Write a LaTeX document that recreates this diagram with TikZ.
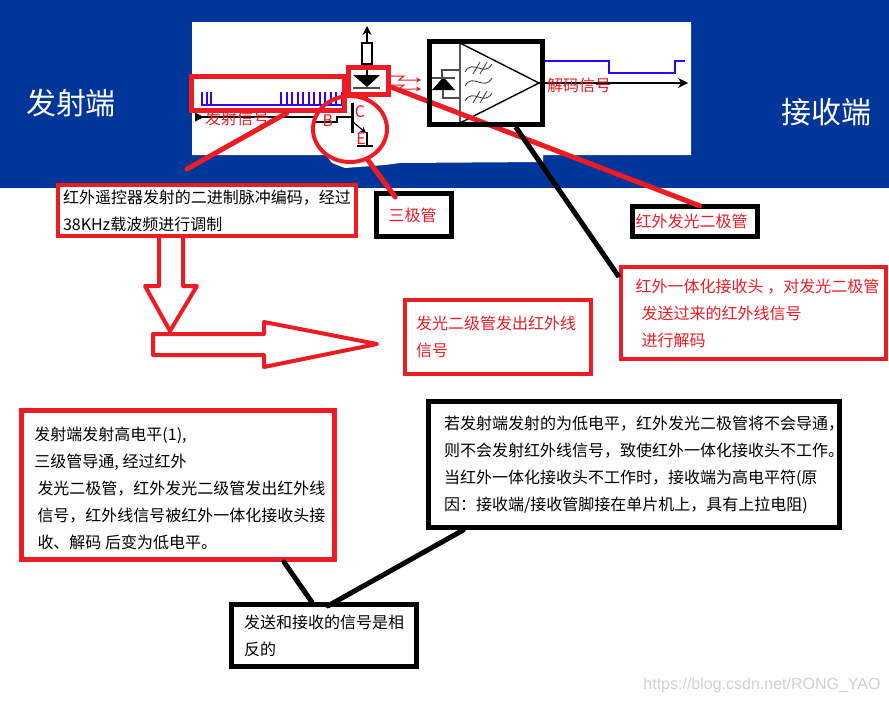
\documentclass[tikz,border=0pt]{standalone}
\usepackage{fontspec}
\setmainfont{Noto Sans CJK SC}
\newfontfamily\markfont{Liberation Sans}
\usetikzlibrary{arrows.meta, shapes.geometric}
\definecolor{bandblue}{RGB}{0,53,153}
\definecolor{markred}{RGB}{237,28,36}
\definecolor{pulseblue}{RGB}{51,0,255}
\newcommand{\lowline}[1]{\makebox[400pt][l]{\hspace*{10pt}#1}}

\begin{document}
\begin{tikzpicture}[
    x=1pt, y=-1pt, >=Stealth,
    every node/.style={inner sep=0pt, font=\fontsize{16}{27}\selectfont, align=left},
    redbox/.style={draw=markred, line width=#1, fill=white},
    redbox/.default=4pt,
    blackbox/.style={draw=black, line width=5pt, fill=white},
    markbox/.style={draw=markred, line width=5pt},
    redlink/.style={draw=markred, line width=5pt, line cap=round},
    blacklink/.style={draw=black, line width=5pt, line cap=round},
    hollow/.style={draw=markred, line width=4pt, line join=round},
    wire/.style={draw=black, line width=1.2pt},
    pulse/.style={draw=pulseblue, line width=2pt},
    redtext/.style={text=markred},
    wave/.style={draw=black!80, line width=0.8pt}
]
  \useasboundingbox (0,0) rectangle (889,704);
  \fill[white] (0,0) rectangle (889,704);
  \fill[bandblue] (0,0) rectangle (889,188);
  \fill[white] (192,22) -- (691,22) -- (691,155) -- (543,155) -- (543,162) -- (400,163)
    -- (385,165) -- (345,168) -- (332,163) -- (326,155) -- (192,155) -- cycle;

  \node[text=white, font=\fontsize{30}{30}\selectfont] (sendtitle) at (71,103) {发射端};
  \node[text=white, font=\fontsize{30}{30}\selectfont] (recvtitle) at (826,112) {接收端};

  % emitter side
  \coordinate (vcc) at (367,26);
  \draw[wire, -{Stealth[length=9pt,width=9pt]}] (367,43) -- (vcc);
  \draw[wire, line width=2pt] (362,43) rectangle (372,64);
  \draw[wire] (367,64) -- (367,76);
  \fill[black] (353,75) -- (380,75) -- (367,87) -- cycle;
  \draw[wire, draw=black!70] (353,88) -- (380,88);
  \draw[wire] (367,97) -- (367,101);
  \draw[black, line width=3pt] (352,103) -- (352,133);
  \draw[wire] (200,117) -- (315,117);
  \fill[black] (195,112.5) -- (204,117) -- (195,121.5) -- cycle;
  \draw[wire] (315,117) -- (315,122) -- (337,122) -- (337,117) -- (352,117);
  \draw[wire, -{Stealth[length=6pt,width=6pt]}] (353,122) -- (366,133);
  \draw[wire] (367,132) -- (367,146);
  \draw[black, line width=2pt] (357,146) -- (373,146);
  \foreach \pos in {202,207,211} \draw[pulse] (\pos,92) -- (\pos,105);
  \foreach \pos in {281,286.5,...,342} \draw[pulse] (\pos,92) -- (\pos,105);
  \draw[pulse, line width=2.5pt] (201,105) -- (342,105);

  \node[redtext] (sendsig) at (237,118) {发射信号};
  \node[redtext] (pinb) at (328,121) {B};
  \node[redtext] (pinc) at (360,112) {C};
  \node[redtext] (pine) at (361,139) {E};

  % infrared rays
  \draw[draw=markred, line width=1pt, -{Stealth[length=5pt,width=5pt]}] (391,76) -- (404,76) -- (399,80) -- (421,80);
  \draw[draw=markred, line width=1pt, -{Stealth[length=5pt,width=5pt]}] (391,85) -- (404,85) -- (399,89) -- (421,89);

  % receiver side
  \draw[black, line width=1.4pt] (460,43) -- (539,83) -- (460,123) -- cycle;
  \fill[black] (432,90) -- (455,90) -- (443.5,77) -- cycle;
  \draw[wire, draw=black!70] (432,78) -- (455,78);
  \draw[wire, draw=black!70] (460,70) -- (442,70) -- (442,78);
  \draw[wire, draw=black!70] (443,90) -- (443,98) -- (460,98);
  \foreach \wy in {68,82,97}
    \draw[wave] (465,\wy+4) .. controls (473,\wy-10) and (484,\wy+10) .. (492,\wy-4);
  \foreach \wy in {68,97} {
    \draw[wave] (473,\wy+6) -- (480,\wy-6);
    \draw[wave] (480,\wy+6) -- (487,\wy-6);
  }
  \coordinate (wireout) at (688,83);
  \draw[wire, -{Stealth[length=10pt,width=10pt]}] (539,83) -- (wireout);
  \draw[pulse, line width=2.2pt] (545,61) -- (609,61) -- (609,73) -- (675,73) -- (675,61) -- (685,61);
  \node[redtext] (decodesig) at (579,85) {解码信号};

  % text boxes
  \node[redbox, minimum width=298pt, minimum height=51pt] (pulsetxt) at (207,210.5)
    {红外遥控器发射的二进制脉冲编码，经过\\38KHz载波频进行调制};
  \node[blackbox, redtext, minimum width=75pt, minimum height=43pt] (triodetag) at (414,215) {三极管\hspace*{3pt}};
  \node[blackbox, redtext, minimum width=125pt, minimum height=30pt] (ledtag) at (695,221.5) {红外发光二极管\hspace*{7pt}};
  \node[redbox, redtext, minimum width=265pt, minimum height=92pt] (irhead) at (753.5,313)
    {\hspace*{8pt}红外一体化接收头 ，对发光二极管\\\hspace*{14pt}发送过来的红外线信号\\\hspace*{14pt}进行解码};
  \node[redbox, redtext, minimum width=186pt, minimum height=74pt] (ledsig) at (498,337)
    {发光二级管发出红外线\hspace*{4pt}\\信号};
  \node[redbox=5pt, minimum width=313pt, minimum height=149pt] (hightxt) at (178,485)
    {\rule{0pt}{20pt}\hspace*{4pt}发射端发射高电平(1),\\\hspace*{4pt}三级管导通, 经过红外\\\hspace*{7pt}发光二极管，红外发光二级管发出红外线\\\hspace*{7pt}信号，红外线信号被红外一体化接收头接\\\hspace*{7pt}收、解码 后变为低电平。};
  \node[blackbox, minimum width=411pt, minimum height=126pt] (lowtxt) at (634,464.5)
    {\lowline{若发射端发射的为低电平，红外发光二极管将不会导通，}\\\lowline{则不会发射红外线信号，致使红外一体化接收头不工作。}\\\lowline{当红外一体化接收头不工作时，接收端为高电平符(原}\\\lowline{因：接收端/接收管脚接在单片机上，具有上拉电阻)}};
  \node[blackbox, minimum width=185pt, minimum height=62pt] (resulttxt) at (324,635.5)
    {发送和接收的信号是相\\反的};

  % markers over the circuit
  \node[markbox, minimum width=153pt, minimum height=34pt] (sigbox) at (268,93.5) {};
  \node[markbox, minimum width=40pt, minimum height=27pt] (ledbox) at (368.5,81) {};
  \node[ellipse, draw=markred, line width=4pt, minimum width=74pt, minimum height=66pt] (triodering) at (350,129) {};
  \coordinate (sigend) at (187,169);
  \draw[redlink] (sigbox.-46) -- (sigend);
  \draw[redlink] (triodering.-60) -- ([yshift=-6pt]triodetag.128);
  \draw[redlink, shorten >=-5pt] (ledbox.-15) -- (ledtag.90);
  \node[draw=black, line width=5pt, minimum width=113pt, minimum height=83pt] (recvbox) at (486,83) {};
  \draw[blacklink, line cap=butt] (recvbox.-56) -- (irhead.165);
  \draw[blacklink] (hightxt.-36) -- (resulttxt.110);
  \draw[blacklink, shorten >=-8pt] (lowtxt.201) -- (resulttxt.72);

  % block arrows
  \draw[hollow] (159,238) -- (159,286) -- (145,286) -- (170,331) -- (197,286) -- (183,286) -- (183,238);
  \draw[hollow] (153,334) -- (264,334) -- (264,322) -- (377,344) -- (264,367) -- (264,355) -- (153,355) -- cycle;

  \node[text=black!18, font=\markfont\fontsize{16}{16}\selectfont] (blogmark) at (762,685) {https://blog.csdn.net/RONG\_YAO};
\end{tikzpicture}
\end{document}
